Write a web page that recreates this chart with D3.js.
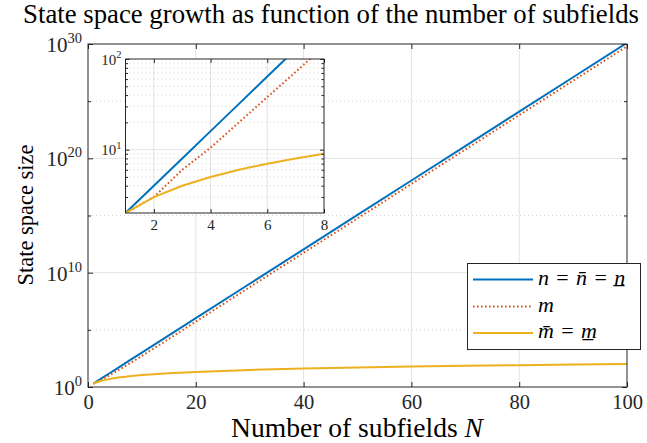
<!DOCTYPE html>
<html>
<head>
<meta charset="utf-8">
<script src="https://cdn.jsdelivr.net/npm/d3@7"></script>
<style>
  body { margin: 0; background: #fff; }
</style>
</head>
<body>
<script>
// values
var subfields = [1, 2, 3, 4, 5, 6, 7, 8, 10, 15, 20, 30, 40, 50, 60, 70, 80, 90, 100];
var nValues = [2, 4, 8, 16, 32, 64, 128, 256, 1024, 3.3e4, 1.05e6, 1.07e9, 1.1e12, 1.13e15, 1.15e18, 1.18e21, 1.21e24, 1.24e27, 1.27e30];
var mValues = [2, 3, 6, 10.5, 20, 38, 72, 138, 520, 1.6e4, 5.2e5, 5.4e8, 5.5e11, 5.6e14, 5.8e17, 5.9e20, 6e23, 6.2e26, 6.3e29];
var mbarValues = [2, 3, 4, 5, 6, 7, 8, 9, 11, 16, 21, 31, 41, 51, 61, 71, 81, 91, 101];

var xTicks = [0, 20, 40, 60, 80, 100];
var yTicks = [1, 1e10, 1e20, 1e30];
var yMinorTicks = [1e5, 1e15, 1e25];
var insetXTicks = [2, 4, 6, 8];
var insetYTicks = [10, 100];
var insetYMinor = [3, 4, 5, 6, 7, 8, 9, 20, 30, 40, 50, 60, 70, 80, 90];

var seriesNames = ['n', 'm', 'mbar'];
var colors = ['#0072BD', '#D95319', '#EDB120'];

var W = 647, H = 443;
var FONT = '"Liberation Serif", "Times New Roman", "DejaVu Serif", serif';
var axisColor = '#262626';
var gridColor = '#e3e3e3';

var svg = d3.select('body').append('svg')
	.attr('width', W)
	.attr('height', H)
	.attr('font-family', FONT);

// shrink/grow a text so it spans the given width
function fit(t, width) {
	var size = +t.attr('font-size');
	var w = t.node().getComputedTextLength();
	t.attr('font-size', size * width / w);
}

var x = d3.scaleLinear().domain([0, 100]).range([88, 627]);
var y = d3.scaleLog().domain([1, 1e30]).range([387, 44]);

var defs = svg.append('defs');
defs.append('clipPath').attr('id', 'mainclip').append('rect')
	.attr('x', 88).attr('y', 44).attr('width', 539).attr('height', 343);

// grid
var grid = svg.append('g');
grid.selectAll('.vg').data(xTicks.slice(1, -1)).enter().append('line')
	.attr('x1', d => x(d)).attr('x2', d => x(d))
	.attr('y1', 44).attr('y2', 387)
	.attr('stroke', gridColor).attr('stroke-width', 1);
grid.selectAll('.hg').data(yTicks.slice(1, -1)).enter().append('line')
	.attr('x1', 88).attr('x2', 627)
	.attr('y1', d => y(d)).attr('y2', d => y(d))
	.attr('stroke', gridColor).attr('stroke-width', 1);
grid.selectAll('.mg').data(yMinorTicks).enter().append('line')
	.attr('x1', 88).attr('x2', 627)
	.attr('y1', d => y(d)).attr('y2', d => y(d))
	.attr('stroke', '#cccccc').attr('stroke-width', 0.8)
	.attr('stroke-dasharray', '1,3');

// series
var allSeries = [nValues, mValues, mbarValues];
function seriesPoints(vals, count) {
	return subfields.slice(0, count).map((s, i) => [s, vals[i]]);
}
var line = d3.line().x(d => x(d[0])).y(d => y(d[1]));
var lines = svg.append('g').attr('clip-path', 'url(#mainclip)');
allSeries.forEach(function(vals, i) {
	lines.append('path')
		.attr('d', line(seriesPoints(vals, subfields.length)))
		.attr('fill', 'none')
		.attr('stroke', colors[i])
		.attr('stroke-width', 2)
		.attr('stroke-dasharray', i == 1 ? '1.6,2.4' : null);
});

// axes (ticks inward)
var xAxis = svg.append('g').attr('transform', 'translate(0,387)')
	.call(d3.axisBottom(x).tickValues(xTicks).tickSize(-5).tickPadding(7).tickFormat(d3.format('d')));
var xAxisTop = svg.append('g').attr('transform', 'translate(0,44)')
	.call(d3.axisTop(x).tickValues(xTicks).tickSize(-5).tickFormat(''));
var yAxis = svg.append('g').attr('transform', 'translate(88,0)')
	.call(d3.axisLeft(y).tickValues(yTicks).tickSize(-5).tickPadding(6));
var yAxisR = svg.append('g').attr('transform', 'translate(627,0)')
	.call(d3.axisRight(y).tickValues(yTicks).tickSize(-5).tickFormat(''));
svg.append('g').attr('transform', 'translate(88,0)')
	.call(d3.axisLeft(y).tickValues(yMinorTicks).tickSize(-3).tickFormat(''));
svg.append('g').attr('transform', 'translate(627,0)')
	.call(d3.axisRight(y).tickValues(yMinorTicks).tickSize(-3).tickFormat(''));

svg.selectAll('g').attr('font-family', null);
svg.selectAll('.domain').remove();
svg.selectAll('.tick line').attr('stroke', axisColor);
svg.selectAll('.tick text').attr('fill', axisColor);
xAxis.selectAll('text').attr('font-size', 20.5);

// power-of-ten labels
function powLabel(sel, size, supSize) {
	sel.each(function(d) {
		var t = d3.select(this);
		var e = Math.round(Math.log10(d));
		t.text('').attr('font-size', size).attr('dy', '0.35em');
		t.append('tspan').text('10');
		t.append('tspan').text(e).attr('font-size', supSize).attr('dy', -size * 0.42);
	});
}
powLabel(yAxis.selectAll('text'), 21, 14.5);

// box
svg.append('rect').attr('x', 88).attr('y', 44).attr('width', 539).attr('height', 343)
	.attr('fill', 'none').attr('stroke', axisColor).attr('stroke-width', 1);

// ---- inset ----
var xi = d3.scaleLinear().domain([1, 8]).range([125.5, 324]);
var yi = d3.scaleLog().domain([2, 100]).range([213, 59]);

var inset = svg.append('g');
inset.append('rect').attr('x', 125.5).attr('y', 59).attr('width', 198.5).attr('height', 154)
	.attr('fill', '#fff');
defs.append('clipPath').attr('id', 'insetclip').append('rect')
	.attr('x', 125.5).attr('y', 59).attr('width', 198.5).attr('height', 154);

inset.selectAll('.ivg').data(insetXTicks.slice(0, -1)).enter().append('line')
	.attr('x1', d => xi(d)).attr('x2', d => xi(d))
	.attr('y1', 59).attr('y2', 213)
	.attr('stroke', gridColor).attr('stroke-width', 1);
inset.selectAll('.imin').data(insetYMinor).enter().append('line')
	.attr('x1', 125.5).attr('x2', 324)
	.attr('y1', d => yi(d)).attr('y2', d => yi(d))
	.attr('stroke', '#c8c8c8').attr('stroke-width', 0.8)
	.attr('stroke-dasharray', '1,3');
inset.append('line')
	.attr('x1', 125.5).attr('x2', 324)
	.attr('y1', yi(10)).attr('y2', yi(10))
	.attr('stroke', gridColor).attr('stroke-width', 1);

var iline = d3.line().x(d => xi(d[0])).y(d => yi(d[1]));
var ilines = inset.append('g').attr('clip-path', 'url(#insetclip)');
allSeries.forEach(function(vals, i) {
	ilines.append('path')
		.attr('d', iline(seriesPoints(vals, 8)))
		.attr('fill', 'none')
		.attr('stroke', colors[i])
		.attr('stroke-width', 2)
		.attr('stroke-dasharray', i == 1 ? '1.6,2.4' : null);
});

var ixAxis = inset.append('g').attr('transform', 'translate(0,213)')
	.call(d3.axisBottom(xi).tickValues(insetXTicks).tickSize(-4).tickPadding(6).tickFormat(d3.format('d')));
inset.append('g').attr('transform', 'translate(0,59)')
	.call(d3.axisTop(xi).tickValues(insetXTicks).tickSize(-4).tickFormat(''));
var iyAxis = inset.append('g').attr('transform', 'translate(125.5,0)')
	.call(d3.axisLeft(yi).tickValues(insetYTicks).tickSize(-4).tickPadding(4));
inset.append('g').attr('transform', 'translate(324,0)')
	.call(d3.axisRight(yi).tickValues(insetYTicks).tickSize(-4).tickFormat(''));
inset.append('g').attr('transform', 'translate(125.5,0)')
	.call(d3.axisLeft(yi).tickValues(insetYMinor).tickSize(-2.5).tickFormat(''));
inset.append('g').attr('transform', 'translate(324,0)')
	.call(d3.axisRight(yi).tickValues(insetYMinor).tickSize(-2.5).tickFormat(''));
inset.selectAll('g').attr('font-family', null);
inset.selectAll('.domain').remove();
inset.selectAll('.tick line').attr('stroke', axisColor);
inset.selectAll('.tick text').attr('fill', axisColor);
ixAxis.selectAll('text').attr('font-size', 15);
powLabel(iyAxis.selectAll('text'), 15, 10.5);

inset.append('rect').attr('x', 125.5).attr('y', 59).attr('width', 198.5).attr('height', 154)
	.attr('fill', 'none').attr('stroke', axisColor).attr('stroke-width', 1);

// ---- legend ----
var legend = svg.append('g');
legend.append('rect').attr('x', 467.5).attr('y', 263.5).attr('width', 173).attr('height', 86)
	.attr('fill', '#fff').attr('stroke', axisColor).attr('stroke-width', 1);
var legendY = [279.5, 306.5, 333];
var legendSize = 22;
var eq = '\u2004=\u2004';
seriesNames.forEach(function(name, i) {
	legend.append('line')
		.attr('x1', 473).attr('x2', 533)
		.attr('y1', legendY[i]).attr('y2', legendY[i])
		.attr('stroke', colors[i]).attr('stroke-width', 2)
		.attr('stroke-dasharray', i == 1 ? '1.6,2.4' : null);
	var t = legend.append('text').attr('x', 538).attr('y', legendY[i] + 5)
		.attr('font-size', legendSize).attr('fill', '#000');
	if (name == 'n') {
		t.append('tspan').attr('font-style', 'italic').text('n');
		t.append('tspan').text(eq);
		t.append('tspan').attr('font-style', 'italic').text('n\u0304');
		t.append('tspan').text(eq);
		t.append('tspan').attr('font-style', 'italic').text('n\u0332');
	} else if (name == 'm') {
		t.append('tspan').attr('font-style', 'italic').text('m');
	} else {
		t.append('tspan').attr('font-style', 'italic').text('m\u0304');
		t.append('tspan').text(eq);
		t.append('tspan').attr('font-style', 'italic').text('m\u0332');
	}
});

// ---- titles ----
var title = svg.append('text')
	.attr('x', 331).attr('y', 23)
	.attr('text-anchor', 'middle')
	.attr('font-size', 20)
	.attr('fill', '#000')
	.text('State space growth as function of the number of subfields');
fit(title, 616);

var xlab = svg.append('text')
	.attr('x', 357).attr('y', 437)
	.attr('text-anchor', 'middle')
	.attr('font-size', 20)
	.attr('fill', '#000');
xlab.append('tspan').text('Number of subfields ');
xlab.append('tspan').attr('font-style', 'italic').text('N');
fit(xlab, 252);

var ylab = svg.append('text')
	.attr('transform', 'translate(33,215) rotate(-90)')
	.attr('text-anchor', 'middle')
	.attr('font-size', 20)
	.attr('fill', '#000')
	.text('State space size');
fit(ylab, 141);

svg.selectAll('text').attr('font-family', FONT);
</script>
</body>
</html>
